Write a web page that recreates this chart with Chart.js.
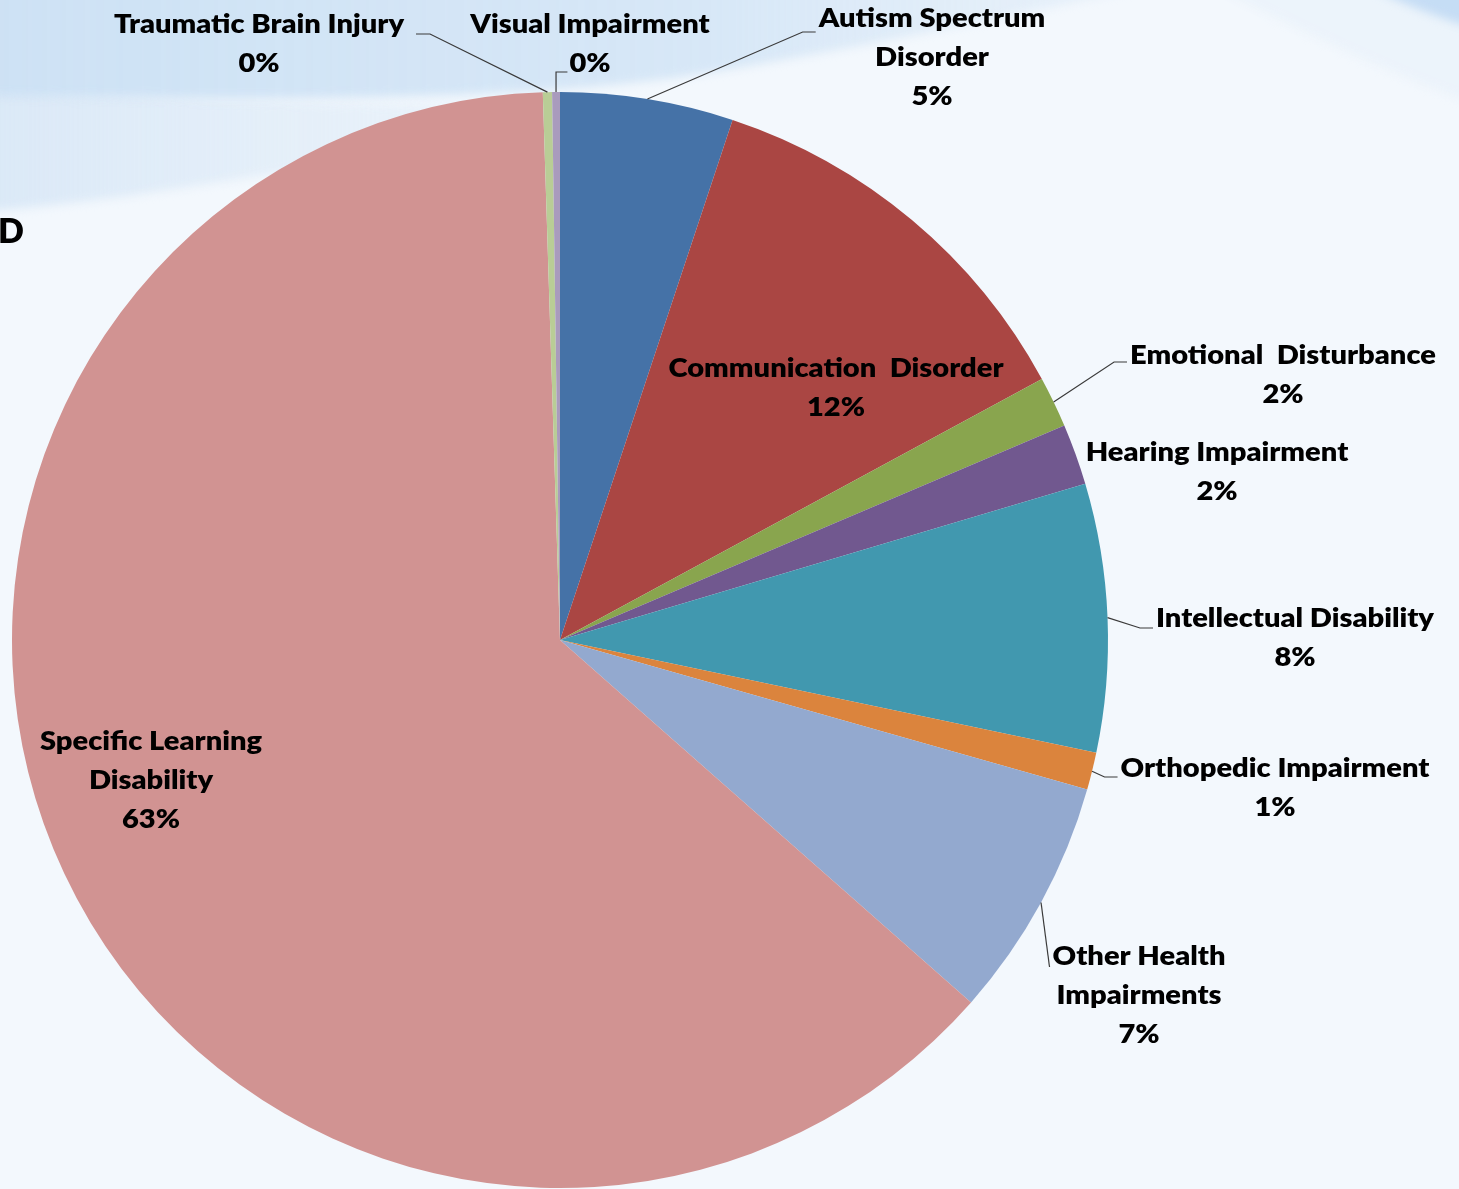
<!DOCTYPE html>
<html lang="en">
<head>
  <meta charset="UTF-8" />
  <title>Students by Disability Category</title>
  <script src="https://cdn.jsdelivr.net/npm/chart.js"></script>
  <style>
    html, body { margin: 0; padding: 0; background: #f3f8fd; }
    .chart-box { position: relative; width: 1459px; height: 1189px; overflow: hidden; }
  </style>
</head>
<body>
  <div class="chart-box"><canvas id="pieChart"></canvas></div>

  <script>
    // categories, clockwise from 12 o'clock (line breaks as in the labels)
    const categories = [
      "Autism Spectrum\nDisorder",
      "Communication  Disorder",
      "Emotional  Disturbance",
      "Hearing Impairment",
      "Intellectual Disability",
      "Orthopedic Impairment",
      "Other Health\nImpairments",
      "Specific Learning\nDisability",
      "Traumatic Brain Injury",
      "Visual Impairment",
    ];

    // share of students, percent
    const shares = [5.1, 12.0, 1.5, 1.8, 7.9, 1.1, 7.1, 63.0, 0.27, 0.23];

    const sliceColors = [
      "#4572a7", "#aa4643", "#89a54e", "#71588f", "#4198af",
      "#db843d", "#93a9cf", "#d19392", "#b9cd96", "#a99bbd",
    ];

    // where each data label sits (centre x, first baseline) and how its leader runs
    const labelSpots = [
      { x: 932, y: 27, lead: "left", dy: 5 },
      { x: 836, y: 377 },
      { x: 1283, y: 364, lead: "left", dy: -2 },
      { x: 1217, y: 461 },
      { x: 1295, y: 627, lead: "left", dy: 1 },
      { x: 1275, y: 777, lead: "left", dy: 0 },
      { x: 1139, y: 965, lead: "down", dy: 2 },
      { x: 151, y: 750 },
      { x: 259, y: 33, lead: "right", dy: 1 },
      { x: 590, y: 33, lead: "up" },
    ];
    const lineGap = 39;
    const labelFont = "800 27px Lato";

    // fit Lato to the width of the original labels
    function squeeze(ctx) {
      ctx.font = labelFont;
      return 278 / ctx.measureText("Intellectual Disability").width;
    }

    function drawText(ctx, text, x, y, sx) {
      ctx.save();
      ctx.translate(x, y);
      ctx.scale(sx, 1);
      ctx.fillText(text, 0, 0);
      ctx.restore();
    }

    // slide background: pale blue with soft waves along the top
    const backdrop = {
      id: "backdrop",
      beforeDraw(chart) {
        const ctx = chart.ctx;
        const w = chart.width;
        ctx.save();
        ctx.fillStyle = "#f3f8fd";
        ctx.fillRect(0, 0, w, chart.height);
        ctx.filter = "blur(5px)";

        // lighter band under the main wave, left side
        let g = ctx.createLinearGradient(0, 0, 650, 0);
        g.addColorStop(0, "rgba(216,231,246,0.9)");
        g.addColorStop(1, "rgba(226,237,248,0.3)");
        ctx.fillStyle = g;
        ctx.beginPath();
        ctx.moveTo(-20, 88);
        ctx.bezierCurveTo(200, 100, 420, 110, 640, 105);
        ctx.bezierCurveTo(470, 140, 330, 165, 200, 185);
        ctx.bezierCurveTo(120, 198, 60, 205, -20, 212);
        ctx.closePath();
        ctx.fill();

        // main wave
        g = ctx.createLinearGradient(0, 0, 1200, 0);
        g.addColorStop(0, "rgba(203,224,244,0.95)");
        g.addColorStop(0.6, "rgba(208,227,245,0.8)");
        g.addColorStop(1, "rgba(225,236,248,0.5)");
        ctx.fillStyle = g;
        ctx.beginPath();
        ctx.moveTo(-20, -20);
        ctx.lineTo(1180, -20);
        ctx.bezierCurveTo(1020, 14, 860, 48, 700, 74);
        ctx.bezierCurveTo(520, 102, 260, 100, -20, 96);
        ctx.closePath();
        ctx.fill();

        // faint band top right
        ctx.fillStyle = "rgba(230,239,249,0.5)";
        ctx.beginPath();
        ctx.moveTo(1200, -20);
        ctx.lineTo(w + 20, -20);
        ctx.lineTo(w + 20, 105);
        ctx.bezierCurveTo(1390, 75, 1300, 30, 1200, -20);
        ctx.closePath();
        ctx.fill();

        // corner wave top right
        ctx.fillStyle = "rgba(190,216,243,0.85)";
        ctx.beginPath();
        ctx.moveTo(1375, -10);
        ctx.quadraticCurveTo(1420, 12, w + 20, 30);
        ctx.lineTo(w + 20, -10);
        ctx.closePath();
        ctx.fill();
        ctx.filter = "none";

        // cut-off title letter at the left edge
        ctx.font = "800 34px Lato";
        ctx.fillStyle = "#000";
        ctx.textAlign = "left";
        ctx.textBaseline = "alphabetic";
        ctx.fillText("D", -2, 243);
        ctx.restore();
      },
    };

    const sliceLabels = {
      id: "sliceLabels",
      afterDatasetsDraw(chart) {
        const ctx = chart.ctx;
        const meta = chart.getDatasetMeta(0);
        const total = shares.reduce((a, b) => a + b, 0);
        ctx.save();
        const sx = squeeze(ctx);
        ctx.fillStyle = "#000";
        ctx.strokeStyle = "#3a3a3a";
        ctx.lineWidth = 1.2;
        ctx.textAlign = "center";
        ctx.textBaseline = "alphabetic";

        meta.data.forEach((arc, i) => {
          const spot = labelSpots[i];
          const lines = categories[i].split("\n");
          lines.push(Math.round((shares[i] / total) * 100) + "%");
          lines.forEach((t, k) => drawText(ctx, t, spot.x, spot.y + k * lineGap, sx));

          if (!spot.lead) return;
          const p = arc.getProps(["x", "y", "startAngle", "endAngle", "outerRadius"], true);
          const mid = (p.startAngle + p.endAngle) / 2;
          const ax = p.x + Math.cos(mid) * p.outerRadius;
          const ay = p.y + Math.sin(mid) * p.outerRadius;
          const w0 = ctx.measureText(lines[0]).width * sx;
          const ly = spot.y + (spot.dy || 0);
          let pts;
          if (spot.lead === "left") {
            const end = spot.x - w0 / 2 - 3;
            pts = [[ax, ay], [end - 13, ly], [end, ly]];
          } else if (spot.lead === "right") {
            const end = spot.x + w0 / 2 + 12;
            pts = [[ax, ay], [end + 14, ly], [end, ly]];
          } else if (spot.lead === "down") {
            pts = [[ax, ay], [spot.x - w0 / 2 - 3, ly]];
          } else {
            const last = lines[lines.length - 1];
            const y2 = spot.y + (lines.length - 1) * lineGap;
            const end = spot.x - (ctx.measureText(last).width * sx) / 2 - 2;
            pts = [[ax, ay], [ax, y2], [end, y2]];
          }
          ctx.beginPath();
          pts.forEach(([x, y], k) => (k ? ctx.lineTo(x, y) : ctx.moveTo(x, y)));
          ctx.stroke();
        });
        ctx.restore();
      },
    };

    new Chart(document.getElementById("pieChart"), {
      type: "pie",
      data: {
        labels: categories,
        datasets: [
          {
            data: shares,
            backgroundColor: sliceColors,
            borderWidth: 0,
          },
        ],
      },
      options: {
        responsive: true,
        maintainAspectRatio: false,
        animation: false,
        layout: { padding: { left: 12, top: 92, right: 351, bottom: 1 } },
        plugins: {
          legend: { display: false },
          tooltip: { enabled: false },
        },
      },
      plugins: [backdrop, sliceLabels],
    });
  </script>
</body>
</html>
